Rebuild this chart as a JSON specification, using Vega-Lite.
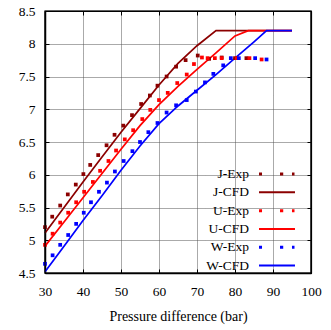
{
  "$schema": "https://vega.github.io/schema/vega-lite/v6.json",
  "width": 266,
  "height": 262,
  "autosize": {"type": "none"},
  "padding": {"left": 45, "top": 11, "right": 20, "bottom": 57},
  "config": {
    "font": "Liberation Serif",
    "view": {"stroke": "#000000", "strokeWidth": 1.2},
    "axis": {
      "labelFont": "Liberation Serif", "labelFontSize": 13.5, "labelColor": "black", "labelOverlap": false, "labelFlush": false, "tickCount": 20,
      "titleFont": "Liberation Serif", "titleFontSize": 14, "titleFontWeight": "normal", "titleColor": "black",
      "domainColor": "black", "domainWidth": 1.5, "tickColor": "black", "tickSize": -4, "tickWidth": 1
    }
  },
  "data": {"values": [
    {"s": "J-CFD", "t": "CFD", "x": 30, "y": 5.11}, {"s": "J-CFD", "t": "CFD", "x": 35, "y": 5.5}, {"s": "J-CFD", "t": "CFD", "x": 40, "y": 5.89}, {"s": "J-CFD", "t": "CFD", "x": 45, "y": 6.27}, {"s": "J-CFD", "t": "CFD", "x": 50, "y": 6.65}, {"s": "J-CFD", "t": "CFD", "x": 55, "y": 7.01}, {"s": "J-CFD", "t": "CFD", "x": 60, "y": 7.37}, {"s": "J-CFD", "t": "CFD", "x": 65, "y": 7.7}, {"s": "J-CFD", "t": "CFD", "x": 70, "y": 7.97}, {"s": "J-CFD", "t": "CFD", "x": 75, "y": 8.2}, {"s": "J-CFD", "t": "CFD", "x": 95, "y": 8.2},
    {"s": "U-CFD", "t": "CFD", "x": 30, "y": 4.91}, {"s": "U-CFD", "t": "CFD", "x": 35, "y": 5.28}, {"s": "U-CFD", "t": "CFD", "x": 40, "y": 5.65}, {"s": "U-CFD", "t": "CFD", "x": 45, "y": 6.02}, {"s": "U-CFD", "t": "CFD", "x": 50, "y": 6.39}, {"s": "U-CFD", "t": "CFD", "x": 55, "y": 6.75}, {"s": "U-CFD", "t": "CFD", "x": 60, "y": 7.07}, {"s": "U-CFD", "t": "CFD", "x": 65, "y": 7.35}, {"s": "U-CFD", "t": "CFD", "x": 70, "y": 7.61}, {"s": "U-CFD", "t": "CFD", "x": 75, "y": 7.86}, {"s": "U-CFD", "t": "CFD", "x": 80, "y": 8.12}, {"s": "U-CFD", "t": "CFD", "x": 83.5, "y": 8.2}, {"s": "U-CFD", "t": "CFD", "x": 95, "y": 8.2},
    {"s": "W-CFD", "t": "CFD", "x": 30, "y": 4.52}, {"s": "W-CFD", "t": "CFD", "x": 35, "y": 4.91}, {"s": "W-CFD", "t": "CFD", "x": 40, "y": 5.3}, {"s": "W-CFD", "t": "CFD", "x": 45, "y": 5.68}, {"s": "W-CFD", "t": "CFD", "x": 50, "y": 6.07}, {"s": "W-CFD", "t": "CFD", "x": 55, "y": 6.44}, {"s": "W-CFD", "t": "CFD", "x": 60, "y": 6.78}, {"s": "W-CFD", "t": "CFD", "x": 65, "y": 7.05}, {"s": "W-CFD", "t": "CFD", "x": 70, "y": 7.29}, {"s": "W-CFD", "t": "CFD", "x": 75, "y": 7.53}, {"s": "W-CFD", "t": "CFD", "x": 80, "y": 7.78}, {"s": "W-CFD", "t": "CFD", "x": 85, "y": 8.03}, {"s": "W-CFD", "t": "CFD", "x": 88.3, "y": 8.2}, {"s": "W-CFD", "t": "CFD", "x": 95, "y": 8.2},
    {"s": "J-Exp", "t": "Exp", "x": 30, "y": 5.2}, {"s": "J-Exp", "t": "Exp", "x": 31.9, "y": 5.36}, {"s": "J-Exp", "t": "Exp", "x": 34, "y": 5.53}, {"s": "J-Exp", "t": "Exp", "x": 36, "y": 5.7}, {"s": "J-Exp", "t": "Exp", "x": 38.1, "y": 5.85}, {"s": "J-Exp", "t": "Exp", "x": 40.1, "y": 6.01}, {"s": "J-Exp", "t": "Exp", "x": 41.9, "y": 6.15}, {"s": "J-Exp", "t": "Exp", "x": 44, "y": 6.3}, {"s": "J-Exp", "t": "Exp", "x": 46.2, "y": 6.45}, {"s": "J-Exp", "t": "Exp", "x": 48.3, "y": 6.61}, {"s": "J-Exp", "t": "Exp", "x": 50.6, "y": 6.75}, {"s": "J-Exp", "t": "Exp", "x": 52.9, "y": 6.91}, {"s": "J-Exp", "t": "Exp", "x": 55.3, "y": 7.08}, {"s": "J-Exp", "t": "Exp", "x": 57.6, "y": 7.21}, {"s": "J-Exp", "t": "Exp", "x": 59.6, "y": 7.36}, {"s": "J-Exp", "t": "Exp", "x": 62, "y": 7.5}, {"s": "J-Exp", "t": "Exp", "x": 64.5, "y": 7.65}, {"s": "J-Exp", "t": "Exp", "x": 67, "y": 7.75}, {"s": "J-Exp", "t": "Exp", "x": 70.2, "y": 7.82}, {"s": "J-Exp", "t": "Exp", "x": 73.2, "y": 7.77}, {"s": "J-Exp", "t": "Exp", "x": 76.5, "y": 7.79}, {"s": "J-Exp", "t": "Exp", "x": 80, "y": 7.78}, {"s": "J-Exp", "t": "Exp", "x": 83, "y": 7.78},
    {"s": "U-Exp", "t": "Exp", "x": 30, "y": 4.93}, {"s": "U-Exp", "t": "Exp", "x": 32, "y": 5.1}, {"s": "U-Exp", "t": "Exp", "x": 34, "y": 5.27}, {"s": "U-Exp", "t": "Exp", "x": 36.1, "y": 5.42}, {"s": "U-Exp", "t": "Exp", "x": 38.2, "y": 5.58}, {"s": "U-Exp", "t": "Exp", "x": 40.3, "y": 5.74}, {"s": "U-Exp", "t": "Exp", "x": 42.6, "y": 5.89}, {"s": "U-Exp", "t": "Exp", "x": 44.5, "y": 6.06}, {"s": "U-Exp", "t": "Exp", "x": 46.7, "y": 6.21}, {"s": "U-Exp", "t": "Exp", "x": 48.7, "y": 6.37}, {"s": "U-Exp", "t": "Exp", "x": 51, "y": 6.54}, {"s": "U-Exp", "t": "Exp", "x": 53.2, "y": 6.68}, {"s": "U-Exp", "t": "Exp", "x": 55.6, "y": 6.85}, {"s": "U-Exp", "t": "Exp", "x": 57.7, "y": 6.99}, {"s": "U-Exp", "t": "Exp", "x": 60, "y": 7.14}, {"s": "U-Exp", "t": "Exp", "x": 62.3, "y": 7.25}, {"s": "U-Exp", "t": "Exp", "x": 64.8, "y": 7.4}, {"s": "U-Exp", "t": "Exp", "x": 67.3, "y": 7.53}, {"s": "U-Exp", "t": "Exp", "x": 69.2, "y": 7.69}, {"s": "U-Exp", "t": "Exp", "x": 71.3, "y": 7.79}, {"s": "U-Exp", "t": "Exp", "x": 72.8, "y": 7.78}, {"s": "U-Exp", "t": "Exp", "x": 74.7, "y": 7.78}, {"s": "U-Exp", "t": "Exp", "x": 76.5, "y": 7.78}, {"s": "U-Exp", "t": "Exp", "x": 80.5, "y": 7.78}, {"s": "U-Exp", "t": "Exp", "x": 83.8, "y": 7.78}, {"s": "U-Exp", "t": "Exp", "x": 87, "y": 7.76},
    {"s": "W-Exp", "t": "Exp", "x": 30, "y": 4.64}, {"s": "W-Exp", "t": "Exp", "x": 32, "y": 4.77}, {"s": "W-Exp", "t": "Exp", "x": 34, "y": 4.93}, {"s": "W-Exp", "t": "Exp", "x": 36.1, "y": 5.08}, {"s": "W-Exp", "t": "Exp", "x": 38.2, "y": 5.25}, {"s": "W-Exp", "t": "Exp", "x": 40.2, "y": 5.42}, {"s": "W-Exp", "t": "Exp", "x": 42.1, "y": 5.58}, {"s": "W-Exp", "t": "Exp", "x": 44.2, "y": 5.74}, {"s": "W-Exp", "t": "Exp", "x": 46.3, "y": 5.88}, {"s": "W-Exp", "t": "Exp", "x": 48.4, "y": 6.05}, {"s": "W-Exp", "t": "Exp", "x": 50.7, "y": 6.21}, {"s": "W-Exp", "t": "Exp", "x": 53, "y": 6.36}, {"s": "W-Exp", "t": "Exp", "x": 55, "y": 6.5}, {"s": "W-Exp", "t": "Exp", "x": 57.2, "y": 6.65}, {"s": "W-Exp", "t": "Exp", "x": 59.6, "y": 6.79}, {"s": "W-Exp", "t": "Exp", "x": 62, "y": 6.95}, {"s": "W-Exp", "t": "Exp", "x": 64.5, "y": 7.06}, {"s": "W-Exp", "t": "Exp", "x": 67.3, "y": 7.14}, {"s": "W-Exp", "t": "Exp", "x": 69.7, "y": 7.27}, {"s": "W-Exp", "t": "Exp", "x": 72.1, "y": 7.41}, {"s": "W-Exp", "t": "Exp", "x": 74.3, "y": 7.54}, {"s": "W-Exp", "t": "Exp", "x": 76.9, "y": 7.67}, {"s": "W-Exp", "t": "Exp", "x": 78.9, "y": 7.78}, {"s": "W-Exp", "t": "Exp", "x": 81, "y": 7.78}, {"s": "W-Exp", "t": "Exp", "x": 85.3, "y": 7.78}, {"s": "W-Exp", "t": "Exp", "x": 88.3, "y": 7.76}
  ]},
  "resolve": {"axis": {"x": "independent", "y": "independent"}},
  "layer": [
    {
      "transform": [{"filter": "datum.t == 'CFD'"}],
      "mark": {"type": "line", "strokeWidth": 1.7},
      "encoding": {
        "x": {"field": "x", "type": "quantitative", "scale": {"domain": [30, 100], "nice": false},
              "axis": {"orient": "bottom", "values": [30, 40, 50, 60, 70, 80, 90, 100], "tickCount": 20, "title": "Pressure difference (bar)", "labelPadding": 15, "titlePadding": 12,
                       "grid": true, "gridColor": "#555555", "gridDash": [1, 1], "gridWidth": 1, "gridOpacity": 1}},
        "y": {"field": "y", "type": "quantitative", "scale": {"domain": [4.5, 8.5], "nice": false, "zero": false},
              "axis": {"orient": "left", "values": [4.5, 5, 5.5, 6, 6.5, 7, 7.5, 8, 8.5], "tickCount": 20, "format": "~g", "title": null, "labelPadding": 14,
                       "grid": true, "gridColor": "#555555", "gridDash": [1, 1], "gridWidth": 1, "gridOpacity": 1}},
        "color": {"field": "s", "type": "nominal",
          "scale": {"domain": ["J-Exp", "J-CFD", "U-Exp", "U-CFD", "W-Exp", "W-CFD"], "range": ["#8b0000", "#8b0000", "#ff0000", "#ff0000", "#0000ff", "#0000ff"]},
          "legend": {"orient": "none", "legendX": 214, "legendY": 156, "title": null, "padding": 0,
            "symbolSize": 196, "symbolStrokeWidth": 0, "symbolOffset": 11, "rowPadding": 4.3,
            "labelAlign": "right", "labelOffset": -35, "labelFont": "Liberation Serif", "labelFontSize": 13.5, "labelColor": "black", "labelLimit": 0,
            "encode": {"symbols": {"update": {
              "shape": {"signal": "indexof(['J-Exp','U-Exp','W-Exp'], datum.value) >= 0 ? 'M-2.57,-0.21h0.43v0.43h-0.43z M0.43,-0.21h0.46v0.43h-0.46z M2.14,-0.21h0.36v0.43h-0.36z' : 'M-2.57,-0.14H2.57V0.14H-2.57Z'"},
              "fill": {"scale": "color", "field": "value"},
              "stroke": {"value": "transparent"},
              "opacity": {"value": 1}
            }}}
          }}
      }
    },
    {
      "transform": [{"filter": "datum.t == 'Exp'"}],
      "mark": {"type": "point", "shape": "square", "filled": true, "size": 14, "opacity": 1},
      "encoding": {
        "x": {"field": "x", "type": "quantitative",
              "axis": {"orient": "top", "values": [30, 40, 50, 60, 70, 80, 90, 100], "tickCount": 20, "labels": false, "title": null, "grid": false, "domainWidth": 1.2}},
        "y": {"field": "y", "type": "quantitative",
              "axis": {"orient": "right", "values": [4.5, 5, 5.5, 6, 6.5, 7, 7.5, 8, 8.5], "tickCount": 20, "labels": false, "title": null, "grid": false, "domainWidth": 1.2}},
        "color": {"field": "s", "type": "nominal"}
      }
    },
    {
      "data": {"values": [{}]},
      "mark": {"type": "rect", "filled": false, "fill": "transparent", "stroke": "black", "strokeWidth": 1.2},
      "encoding": {
        "x": {"datum": 30, "type": "quantitative", "axis": null},
        "x2": {"datum": 100},
        "y": {"datum": 4.5, "type": "quantitative", "axis": null},
        "y2": {"datum": 8.5}
      }
    }
  ]
}
